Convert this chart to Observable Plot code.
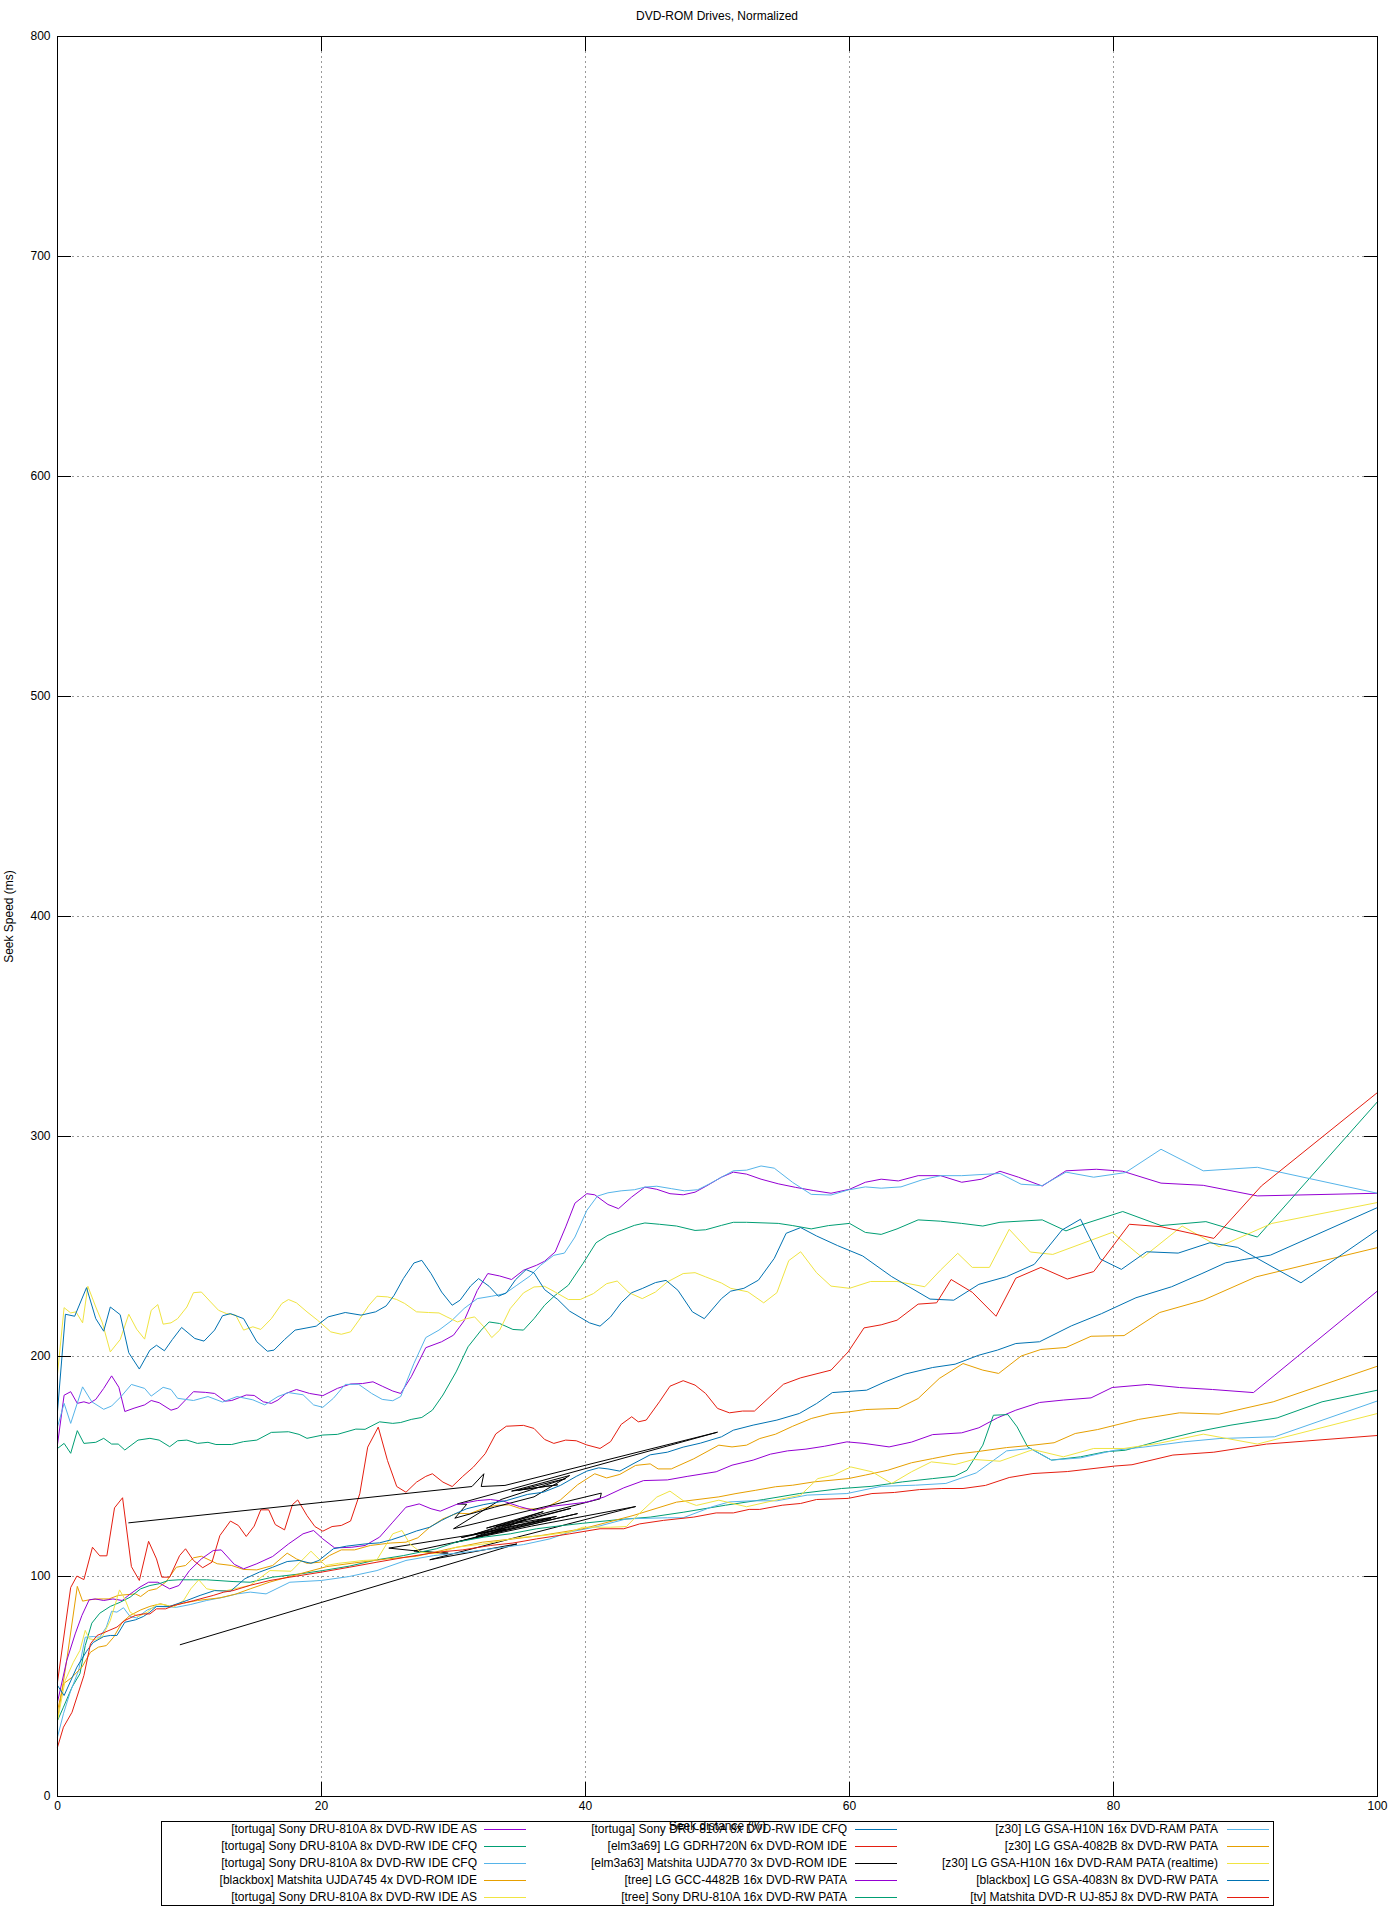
<!DOCTYPE html>
<html><head><meta charset="utf-8">
<script src="https://cdn.jsdelivr.net/npm/d3@7"></script>
<script src="https://cdn.jsdelivr.net/npm/@observablehq/plot@0.6"></script>
<style>
body{margin:0;background:#fff;font-family:"Liberation Sans",Arial,sans-serif;}
#wrap{position:relative;width:1400px;height:1920px;background:#fff;}
#title{position:absolute;left:57px;width:1320px;top:9px;text-align:center;font-size:12px;line-height:14px;}
#chart{position:absolute;left:0;top:30px;}
#legend{position:absolute;left:161px;top:1821px;width:1113px;height:85px;border:1px solid #000;box-sizing:border-box;}
.lt{position:absolute;width:420px;text-align:right;font-size:12px;line-height:16px;height:16px;white-space:nowrap;}
.ls{position:absolute;width:42px;height:0;}
</style></head><body>
<div id="wrap"><div id="title">DVD-ROM Drives, Normalized</div><div id="chart"></div><div id="legend"></div></div>
<script>
const xTicks = [0, 20, 40, 60, 80, 100];
const yTicks = [0, 100, 200, 300, 400, 500, 600, 700, 800];

const seriesNames = [
  "[tortuga] Sony DRU-810A 8x DVD-RW IDE AS",
  "[tortuga] Sony DRU-810A 8x DVD-RW IDE CFQ",
  "[tortuga] Sony DRU-810A 8x DVD-RW IDE CFQ",
  "[blackbox] Matshita UJDA745 4x DVD-ROM IDE",
  "[tortuga] Sony DRU-810A 8x DVD-RW IDE AS",
  "[tortuga] Sony DRU-810A 8x DVD-RW IDE CFQ",
  "[elm3a69] LG GDRH720N 6x DVD-ROM IDE",
  "[elm3a63] Matshita UJDA770 3x DVD-ROM IDE",
  "[tree] LG GCC-4482B 16x DVD-RW PATA",
  "[tree] Sony DRU-810A 16x DVD-RW PATA",
  "[z30] LG GSA-H10N 16x DVD-RAM PATA",
  "[z30] LG GSA-4082B 8x DVD-RW PATA",
  "[z30] LG GSA-H10N 16x DVD-RAM PATA (realtime)",
  "[blackbox] LG GSA-4083N 8x DVD-RW PATA",
  "[tv] Matshita DVD-R UJ-85J 8x DVD-RW PATA"
];
const seriesColors = ["#9400d3","#009e73","#56b4e9","#e69f00","#f0e442","#0072b2","#e51e10","#000000",
  "#9400d3","#009e73","#56b4e9","#e69f00","#f0e442","#0072b2","#e51e10"];

// [seek distance %, seek speed ms]
const s01 = [[0,160],[0.5,182.4],[1,184],[1.5,178.7],[2,179.4],[2.4,178.7],[2.9,180.5],[3.5,185.5],[4.1,191.2],[4.65,186],[5.1,175],[5.8,176.5],[6.6,178],[7.1,180],[7.7,179],[8.6,175.6],[9.1,176.5],[10.3,184],[11.2,183.7],[11.9,183.2],[12.7,179.7],[13.2,180],[14.3,182.5],[14.9,182.3],[15.6,179.4],[16.2,178.7],[16.7,180.2],[17.3,183.2],[18.1,185],[19.1,183.2],[20.1,182.2],[21.2,185.5],[22.2,187.5],[23.1,187.7],[23.9,188.5],[24.6,186.5],[25.4,184.3],[26,183.2],[26.8,190.8],[27.9,204],[29.1,206.7],[30,209.7],[30.8,216.2],[31.8,230],[32.6,237.7],[33.5,236.6],[34.4,235],[35.3,239.2],[36.3,241.5],[36.9,243.3],[37.7,247.5],[38.5,258.9],[39.2,269.7],[40.1,274],[40.7,273.5],[41.7,269.1],[42.5,267.2],[43.5,272.5],[44.5,277],[45.4,276],[46.4,274],[47.4,273.5],[48.3,274.7],[49.1,277.3],[50.3,281.5],[51.2,283.8],[52.2,282.9],[53.3,280.6],[54.6,278.5],[55.9,276.9],[57.3,275.4],[58.6,274.2],[60,276],[61.2,279.2],[62.4,280.6],[63.7,279.8],[65.2,282.2],[66.9,282.2],[68.5,279.2],[70,280.6],[71.4,284.2],[72.8,281.5],[74.6,277.5],[76.4,284.4],[78.7,285.1],[80.7,284.2],[83.6,278.8],[86.8,277.8],[90.9,273],[100,274.2]];
const s02 = [[0,158.2],[0.5,160.5],[1,156],[1.5,166.3],[2,160.5],[2.9,161],[3.5,162.8],[4.1,160.2],[4.6,160.2],[5.1,157.5],[6.1,162],[7,162.8],[7.7,162],[8.5,159],[9.1,161.7],[9.8,162],[10.6,160.5],[11.4,161],[12,160],[13.2,160],[14.1,161.3],[15.1,162],[16.2,165.5],[17.5,165.8],[18.3,164.6],[18.9,162.8],[20.1,164.3],[21.2,164.6],[22.6,167],[23.3,166.9],[24.4,170.3],[25.4,169.6],[26,170],[26.8,171.4],[27.6,172.3],[28.4,175.6],[29.2,182.5],[30.2,193],[31.1,204.4],[32.1,212],[32.7,215.7],[33.5,215],[34.5,212.3],[35.3,212],[36.1,217.2],[36.9,223.3],[37.7,227.8],[38.7,232.4],[39.8,242.2],[40.8,251.7],[41.7,255.1],[42.7,257.3],[43.7,259.6],[44.5,260.7],[45.6,260.1],[46.9,259.3],[48.3,257.3],[49.1,257.6],[50.3,259.6],[51.2,261],[52.2,261],[54.6,260.5],[55.7,259.5],[57.1,258],[58.4,259.5],[60,260.5],[61.2,256.4],[62.4,255.5],[63.6,258],[65.2,262.1],[66.9,261.5],[68.5,260.5],[70.1,259.3],[71.4,261],[74.6,262.1],[76.4,257.1],[77.7,260.1],[80.7,265.9],[83.6,259.5],[87,261.3],[90.9,254.3],[100,315.8]];
const s03 = [[0,168],[0.5,178.7],[1,169.6],[1.9,186.2],[2.6,179.4],[3.5,176],[4.1,177.5],[4.8,181.7],[5.6,187.3],[6.6,185.5],[7.1,182],[8,186],[8.6,185],[9.1,181],[10.3,180],[11.4,181.8],[12.5,179.3],[13.6,181.8],[14.8,180.3],[15.7,178],[16.7,181.8],[17.5,183.6],[18.6,182.6],[19.4,178],[20.1,176.9],[20.9,181],[21.8,187.3],[22.8,187.4],[23.8,183.2],[24.6,180.5],[25.4,179.9],[26,181.8],[27,196.8],[27.9,208.6],[28.9,212],[29.9,216.5],[30.8,221.8],[31.8,226.3],[32.9,227.4],[33.9,228.6],[34.8,232.4],[35.8,236.6],[36.6,241.5],[37.6,246],[38.4,247],[39.2,254.3],[40.1,266.4],[40.9,272.9],[41.7,274.4],[42.7,275.3],[43.7,275.8],[44.5,277],[45.4,277.4],[46.5,276.3],[47.5,275.3],[48.5,275.8],[49.4,278.5],[50.3,281.5],[51.2,284.4],[52.2,284.7],[53.3,286.6],[54.3,285.6],[55.7,279.1],[57.1,273.7],[58.6,273.4],[59.9,275.7],[61.2,277.1],[62.4,276.5],[63.9,277.1],[65.5,280.3],[66.9,282.2],[68.5,282.2],[71.4,283.2],[73,278.3],[74.6,277.7],[76.4,283.8],[78.5,281.5],[80.9,283.6],[83.6,294.2],[86.8,284.4],[90.9,286],[100,274.2]];
const s04 = [[0,35],[0.7,62],[1.5,95.5],[1.9,88.8],[2.4,89.4],[3.1,89.8],[3.9,89.8],[4.6,91.4],[5.9,92.1],[6.3,90.9],[6.9,93.6],[7.5,94.4],[8.2,97.4],[9,104.2],[9.7,105],[10.3,108.5],[10.9,109.2],[12.1,105.8],[13.2,105],[14.1,103.2],[15.1,103],[16.3,105],[17.4,110.6],[18.1,108],[18.9,106],[19.9,106.5],[20.6,109.5],[21.5,112.1],[22.5,112.1],[23.7,114.1],[25.2,115.2],[26.4,115.6],[27.3,117.6],[28.2,122.4],[29.2,126.2],[30.3,128.8],[31.2,128.5],[32.2,130.8],[33.2,132.3],[34.2,132.6],[35.1,130.8],[36.8,130.6],[38.1,134.8],[39.4,141.7],[40.7,146.7],[41.6,144.8],[42.6,146.4],[43.8,150.5],[44.9,151.2],[45.5,148.9],[46.5,148.9],[48.2,153.5],[50.1,159.7],[51.1,158.9],[52.2,159.7],[53.2,162.7],[54.4,164.7],[55.7,168.3],[57.1,171.8],[58.6,174.1],[59.9,174.8],[61.2,175.9],[63.7,176.4],[65.2,180.9],[66.8,190],[68.6,196.8],[70.1,193.8],[71.3,192.3],[73,200.2],[74.5,203.2],[76.4,204.1],[78.3,209.2],[80.8,209.5],[83.5,220],[86.8,225.6],[90.8,236.2],[100,249.5]];
const s05 = [[0,192],[0.5,222.2],[1,219.8],[1.4,220.3],[1.9,215.3],[2.3,231.9],[2.9,222.5],[3.4,215.3],[4,202.1],[4.75,207.7],[5.4,219.2],[6,212.4],[6.6,207.9],[7.1,221],[7.6,223.6],[8,214.7],[8.6,215.3],[9.1,217.2],[9.8,222.5],[10.3,229],[10.9,229.3],[11.6,224.8],[12.2,221],[12.8,219.5],[13.5,218.8],[14.1,212],[14.8,213.5],[15.4,212.3],[16.2,217.2],[17,224.1],[17.5,225.9],[18.1,224.4],[18.9,220.3],[19.7,216.5],[20.7,211.2],[21.5,210.1],[22.2,211.2],[22.8,216.2],[23.6,223.3],[24.2,227.4],[25,227.1],[25.7,225.9],[26.3,224.1],[27.2,220.3],[28.1,220],[28.9,219.8],[29.5,218],[30.3,215.7],[31,217.2],[31.6,218],[32.3,213.5],[32.9,208.6],[33.5,212],[34.3,221.8],[35.3,228.9],[36.1,231.6],[36.9,231.9],[37.7,229.3],[38.7,225.9],[39.6,225.9],[40.6,228.6],[41.6,233.1],[42.4,234.3],[43.3,229],[44.3,226.3],[45.3,229.3],[46.2,233.9],[47.4,237.7],[48.3,238.1],[49.1,236.2],[50.3,233.4],[51,231],[52.3,229.4],[53.5,224.4],[54.5,229],[55.4,243.6],[56.3,247.6],[57.5,238.1],[58.6,232],[60,231],[61.6,234.1],[63.6,234.1],[65.7,231.7],[66.9,239.3],[68.2,246.9],[69.3,240.5],[70.6,240.5],[72.1,257.8],[73.7,247.5],[75.4,246.4],[79.9,256.4],[82.2,244.9],[85.2,259.3],[88,249.9],[92,260.5],[100,270]];
const s06 = [[0,175],[0.6,219.2],[1.3,218.3],[2.2,231.3],[2.9,217.2],[3.5,211.5],[4,222.5],[4.75,219],[5.4,201.7],[6.2,194.3],[7,202.9],[7.5,205.1],[8.1,202.6],[8.7,207.7],[9.4,213.2],[10.4,208.2],[11.1,207],[11.9,212],[12.5,218.5],[13.1,219.5],[14.1,217.2],[15.1,206.7],[15.9,202.4],[16.4,202.9],[17.2,207.7],[18,212],[18.9,213],[19.6,213.8],[20.5,218],[21.8,220],[23,218.8],[24.1,220.3],[24.9,223],[25.5,227.8],[26.2,235.4],[27,242.5],[27.6,243.7],[28.3,237.7],[29.1,229.3],[29.9,223.3],[30.5,225.6],[31.3,232.1],[31.9,235.4],[32.7,231.9],[33.4,227.4],[34,228.9],[34.7,234.9],[35.5,239.5],[36.1,238],[36.9,230.4],[37.9,225.9],[38.8,220.6],[40.3,215.3],[41.1,213.8],[41.9,218],[42.7,224.4],[43.5,229],[44.3,230.9],[45.3,233.6],[46.1,234.6],[47,230.1],[48.1,220.3],[49,217.2],[50.3,226.3],[51,229.7],[52,231],[53.1,234.7],[54.3,244.6],[55.2,256],[56.3,258.6],[57.5,254.8],[59.1,250.4],[61,245.7],[63.2,236.3],[66.1,226.1],[67.9,225.6],[69.8,232.8],[71.9,236.3],[74,241.9],[76.1,257.5],[77.5,262.4],[79,244.3],[80.6,239.6],[82.5,247.6],[84.9,247],[87.3,251.7],[89.4,249.6],[94.2,233.5],[100,257.5]];
const s07 = [[0,52],[1,95],[1.47,100.2],[2,98.6],[2.65,113.3],[3.2,109.4],[3.74,109.4],[4.32,131.2],[4.93,135.8],[5.6,104.5],[6.2,98.2],[6.9,116],[7.5,108],[7.9,99.7],[8.5,99.7],[9.25,109.5],[9.7,112.6],[10.3,107.3],[11,104],[11.7,106.5],[12.3,118.6],[13.1,125.2],[13.7,123.2],[14.3,118.2],[14.9,122.9],[15.4,130.3],[16,130.3],[16.5,123.6],[17.2,121.2],[17.8,132.7],[18.2,134.8],[18.9,127.7],[19.5,122.7],[20.1,120.6],[20.8,122.7],[21.5,123.2],[22.2,125.2],[22.9,137.6],[23.5,158.8],[24.3,167.9],[25,152.7],[25.7,140.9],[26.4,138.3],[27.2,142.9],[27.9,145.5],[28.4,146.7],[29.2,142.9],[29.9,140.9],[30.7,145.5],[31.5,149.7],[32.4,155.8],[33.2,164.8],[34,168.3],[35.3,168.7],[36.1,167.3],[36.9,162.3],[37.6,160.5],[38.5,162],[39.3,161.7],[40.1,159.8],[41.1,158.2],[41.9,161.3],[42.7,169.1],[43.5,172.6],[44,170.3],[44.6,171.1],[45.6,179.4],[46.4,186.5],[47.4,189],[48.3,187],[49.1,183.2],[50,176.4],[50.9,174.4],[51.9,175.2],[52.8,175.2],[55,187.4],[56.3,190.3],[58.6,193.8],[59.9,202.1],[61.1,213],[62.4,214.4],[63.6,216.5],[65.2,223.8],[66.6,224.4],[67.7,235],[69.3,229.2],[71.1,218.3],[72.6,235.6],[74.5,240.5],[76.5,235.2],[78.5,238.6],[81.2,260.1],[83.6,259],[87.6,253.7],[91.2,277.5],[100,320]];
const s08 = [[5.4,124.4],[31.4,140.9],[32.3,146.7],[32.1,140.9],[33.9,141.4],[50.0,165.6],[30.3,133.0],[31.0,132.8],[30.1,126.5],[33.1,131.5],[36.1,136.2],[38.8,145.9],[34.4,138.8],[37.9,141.7],[34.9,139.2],[38.5,144.5],[33.6,135.0],[30.0,121.7],[41.2,137.9],[41.1,135.3],[32.5,122.0],[36.8,129.5],[31.5,119.0],[37.8,127.3],[33.2,122.6],[38.9,131.0],[30.6,117.7],[37.4,126.4],[31.7,118.2],[35.5,126.0],[32.8,119.5],[39.4,128.6],[30.2,115.6],[34.0,121.5],[25.1,112.9],[28.2,111.0],[29.6,110.6],[27.0,111.6],[35.9,122.9],[43.8,131.8],[28.2,107.6],[34.8,114.8],[9.3,69.0]];
const s09 = [[0,42.9],[0.7,61.8],[1.34,73.9],[1.85,82.3],[2.4,89.4],[2.85,89.8],[3.5,89.1],[4.2,89.8],[4.9,89.1],[5.5,92],[6.25,95.2],[6.9,97.4],[7.6,97.4],[8.5,94.4],[9.2,95.9],[10,102.7],[10.9,108],[11.8,111.8],[12.4,112.1],[13.4,105.5],[14.1,103.5],[15.1,105.8],[16.3,109.1],[17.5,114.8],[18.6,119.4],[19.4,120.9],[20.1,117.1],[21,113],[22.3,113.3],[23.3,114.1],[24.4,117.9],[25.4,124.7],[26.4,131.5],[27.4,133],[28.3,130.8],[29,129.7],[30.2,132.7],[31.8,134.5],[32.8,135],[33.8,134.2],[35,131.8],[36.1,130],[37.3,131.8],[38.6,132.7],[40.1,133.8],[41.4,136.1],[42.9,140.3],[44.4,143.6],[46.2,143.9],[47.7,145.5],[49.9,147.6],[51.1,150.6],[52.7,152.9],[54,155.6],[55.3,157.1],[56.7,157.9],[58.1,159.2],[59.8,161.2],[61.1,160.5],[63,158.9],[64.7,161.1],[66.3,164.5],[68.5,165.3],[69.8,167.6],[71.2,172.1],[72.6,175.6],[74.4,179.1],[76.2,180.2],[78.3,181.2],[79.9,185.9],[82.6,187.3],[85,185.9],[87.5,185],[90.6,183.6],[100,229.8]];
const s10 = [[0,34.5],[0.45,40.6],[1.1,49.7],[1.7,55.8],[2.1,68.6],[2.6,78.8],[3.2,83.3],[4,86.4],[4.75,88.3],[5.5,90.6],[6.3,94.4],[7,95.9],[7.7,96.7],[8.4,98.2],[9.2,98.5],[10.3,98.5],[11.3,98.5],[13.3,97.7],[14.6,97.4],[16.3,99.7],[18.4,101.2],[20.1,102.7],[22.1,104.7],[24.2,107.6],[26.2,109.5],[28.7,112.6],[30.2,115.6],[32.3,117.9],[34.3,119.4],[36.3,121.7],[38.3,123.2],[39.8,124.2],[42.4,125.8],[44.9,127],[47.4,129.2],[50.6,132.4],[53.5,135],[56.2,137.7],[59.4,140],[61.7,141],[64,143],[66.3,144.5],[68,145.6],[68.9,148.3],[70.1,159.7],[70.9,173.3],[72,173.6],[72.7,168],[73.5,158.9],[75.3,152.9],[77.5,154.4],[79.4,156.7],[80.9,157.4],[83.7,162],[86.3,165.8],[88.9,168.8],[92.4,172.1],[95.8,179.4],[100,184.7]];
const s11 = [[0,27],[0.45,37.6],[0.96,47.4],[1.6,57.3],[2.1,72.4],[2.7,72.7],[3.2,72.4],[3.7,77],[4.1,84.2],[4.5,83.8],[5,85.8],[5.5,81.8],[6,81.2],[6.8,84.8],[7.5,86.4],[9,86],[10.1,87.3],[11.3,89.1],[12.6,90.6],[13.6,92.1],[14.6,92.9],[15.8,92.1],[17.6,97.4],[20,98.2],[22.1,100],[24.2,102.7],[26.4,107.3],[28.5,109.5],[31,111.1],[33.8,113.3],[35.3,114.5],[37.3,117.1],[38.8,120.2],[40.9,122.7],[43.1,126.2],[46.2,126.7],[47.4,126.7],[49.6,131.7],[50.9,133.9],[52.6,134.4],[54.5,134.4],[56.8,137],[59.8,137.7],[62.4,141],[65,141.5],[67.3,142.3],[69.6,147.1],[71.9,157.1],[73.7,158.2],[75.3,152.9],[77.5,153.9],[80.1,157.4],[82.4,158.9],[85.3,161.2],[88,162.7],[92.2,163.5],[100,179.8]];
const s12 = [[0,39],[0.45,51.2],[1.1,54.2],[1.85,58.8],[2.5,65.6],[3.1,67.9],[3.7,68.6],[4.25,72.4],[4.9,79.2],[5.5,82.3],[6.3,84.8],[7,86.4],[7.8,87.6],[8.5,86.5],[9.55,87.9],[10.6,89.1],[12.3,90.3],[13.5,92],[14.6,94.4],[16.1,97.5],[17.6,100],[20.4,104.5],[22.5,106.2],[25,108],[27.2,109.2],[29.7,112.6],[32.2,115.6],[34.7,117.2],[36.7,118.7],[39.8,121.7],[43.6,127.7],[46.9,133.8],[50.1,136.2],[51.4,137.7],[52.9,139.2],[54.4,140.8],[55.7,141.5],[57.3,143],[59.9,144.5],[61.2,146.1],[62.9,148.3],[64.7,151.7],[66.3,153.6],[68,155.6],[69.6,156.7],[71.9,158.6],[73.9,159.7],[75.5,160.8],[77.1,165],[78.8,166.8],[81.9,171.4],[85,174.4],[88,173.8],[92.1,179.4],[100,195.6]];
const s13 = [[0,34.5],[0.58,52.7],[1.2,61],[1.7,66.4],[2.1,75.5],[2.4,71.7],[2.85,71.2],[3.4,72.7],[4,80],[4.7,93.9],[5.1,89.8],[5.5,83.8],[6.1,81.8],[6.8,83.8],[7.5,87.3],[8,87.3],[8.8,86.1],[9.55,89.1],[10.1,94.4],[10.7,98.5],[11.3,94.4],[12.1,93.6],[12.8,93.6],[14.6,96],[16.1,102.7],[17.7,102.4],[19.2,111.5],[20.3,105],[21.3,106],[23.2,107.3],[24.2,107.6],[25.4,119.4],[26.1,120.9],[26.7,114.8],[27.5,111.1],[28.7,110.3],[30.2,113.3],[32.3,114.8],[34.8,117.6],[36.8,118.6],[38.8,120.2],[39.8,122.4],[41.9,122.4],[43.1,122.7],[44,128.2],[45.4,136.1],[46.4,138.8],[47.4,134.5],[48.4,132.3],[50.1,134.7],[52.2,131.7],[54.4,134.7],[56.3,137],[57.6,144.5],[58.8,146.1],[60.1,149.8],[61.7,147.6],[63.2,142.3],[64.7,147.6],[66.2,152.1],[68,150.9],[69.4,153.2],[71.4,152.4],[73.9,157.7],[76.2,154.4],[78.5,158.2],[80.8,158.2],[83.4,160.5],[86.8,164.7],[90.9,160.2],[100,174.1]];
const s14 = [[0,50.5],[0.5,45.9],[1.47,58.8],[2.2,66],[2.7,70],[3.5,72.7],[4,73.2],[4.5,73.2],[5.1,79.2],[5.9,80.3],[6.5,81.8],[7,83.8],[7.5,86.4],[8.5,86.4],[9.8,89.1],[10.8,91.4],[11.9,93.6],[13.1,93.3],[14.2,99],[15.3,102],[16.3,104.2],[17.4,106.8],[18.3,107.3],[19.2,106],[19.8,107.3],[20.9,112.6],[21.9,113.8],[23.3,114.8],[24.4,115.3],[25.3,116.7],[26.2,118.5],[27.2,120.7],[28.2,122.4],[29.1,125.5],[30,128.2],[31,130.8],[32.3,132.7],[34,134.5],[35.6,137.3],[36.8,138.3],[38.1,141.4],[39.3,145.5],[40.1,147.9],[41,149.4],[41.7,148.9],[42.6,147.9],[43.6,151.2],[44.9,155.3],[46.2,156.5],[47.4,158.8],[48.7,160.6],[50.3,163.5],[51.2,166.5],[52.7,168.8],[54.5,171.1],[56.2,174.1],[57.5,178.6],[58.7,183.6],[61.3,184.7],[62.7,188.5],[64.2,192],[66.3,195],[68,196.5],[69.8,200.6],[71.2,202.9],[72.6,205.9],[74.4,206.7],[76.8,213.9],[79.1,219.5],[81.7,226.7],[84.4,231.7],[86.7,237.7],[88.5,242.6],[89.9,244.1],[91.9,246.1],[100,267.7]];
const s15 = [[0,22.4],[0.45,31.5],[1.1,38.3],[2,55],[2.5,69.4],[3,73.2],[3.6,74.7],[4.5,77],[5.1,80],[5.9,82.3],[6.5,83],[7,83],[7.5,85.3],[8.2,85.3],[8.8,86.8],[9.55,87.9],[10.3,89],[11.1,90.3],[11.8,91.4],[12.6,92.9],[13.3,93.6],[14.6,96],[16.1,98.2],[17.6,99.7],[20,102],[22.1,104.2],[24.2,106.5],[26.4,108.8],[28.7,111],[30.7,112.1],[32.8,114.1],[34.5,115.2],[36.3,117.1],[38.8,119.4],[41.1,121.7],[42.9,121.7],[44.1,123.9],[45.9,125.5],[48.2,127],[49.9,128.9],[51.2,128.9],[52.4,130.5],[53.2,130.5],[54.9,132.4],[56.3,133.2],[57.5,135],[59.9,135.5],[61.7,137.7],[63.4,138.2],[65.3,139.5],[67,140],[68.6,140],[70.3,141.4],[72.1,145],[73.9,146.8],[76.5,147.7],[80.1,150.2],[81.4,150.8],[84.5,155.2],[87.6,156.5],[91.6,160.2],[100,164.1]];

const seriesData = [s01,s02,s03,s04,s05,s06,s07,s08,s09,s10,s11,s12,s13,s14,s15];

const lineMarks = seriesData.map((pts, i) =>
  Plot.line(pts, {x: d => d[0], y: d => d[1], stroke: seriesColors[i], strokeWidth: 1, curve: "linear"})
);

const chart = Plot.plot({
  width: 1400, height: 1812,
  marginTop: 6, marginLeft: 57, marginRight: 23, marginBottom: 46,
  style: {fontFamily: "'Liberation Sans', Arial, sans-serif", fontSize: "12px", background: "white", color: "black"},
  x: {domain: [0, 100], ticks: xTicks},
  y: {domain: [0, 800], ticks: yTicks},
  marks: [
    Plot.gridX(xTicks.slice(1, -1), {stroke: "#999", strokeOpacity: 1, strokeDasharray: "2,3"}),
    Plot.gridY(yTicks.slice(1, -1), {stroke: "#999", strokeOpacity: 1, strokeDasharray: "2,3"}),
    ...lineMarks,
    Plot.frame({stroke: "black"}),
    Plot.axisX(xTicks, {anchor: "bottom", tickSize: -14, tickPadding: 19, label: "Seek distance (%)", labelAnchor: "center", labelArrow: "none", labelOffset: 33}),
    Plot.axisX(xTicks, {anchor: "top", tickSize: -14, tickFormat: () => "", label: null}),
    Plot.axisY(yTicks, {anchor: "left", tickSize: -14, tickPadding: 21, label: "Seek Speed (ms)", labelAnchor: "center", labelArrow: "none", labelOffset: 53}),
    Plot.axisY(yTicks, {anchor: "right", tickSize: -14, tickFormat: () => "", label: null})
  ]
});
document.getElementById("chart").appendChild(chart);

// legend
const legend = document.getElementById("legend");
const colTextRight = [477, 847, 1218];
const colLineStart = [484, 855, 1227];
const rowCenters = [1829, 1846, 1863, 1880, 1897];
const legLeft = 162, legTop = 1822;
seriesNames.forEach((name, i) => {
  const col = Math.floor(i / 5), row = i % 5;
  const t = document.createElement("div");
  t.className = "lt";
  t.textContent = name;
  t.style.left = (colTextRight[col] - 420 - legLeft) + "px";
  t.style.top = (rowCenters[row] - 8 - legTop) + "px";
  legend.appendChild(t);
  const s = document.createElement("div");
  s.className = "ls";
  s.style.left = (colLineStart[col] - legLeft) + "px";
  s.style.top = (rowCenters[row] - legTop) + "px";
  s.style.borderTop = "1px solid " + seriesColors[i];
  legend.appendChild(s);
});
</script>
</body></html>
